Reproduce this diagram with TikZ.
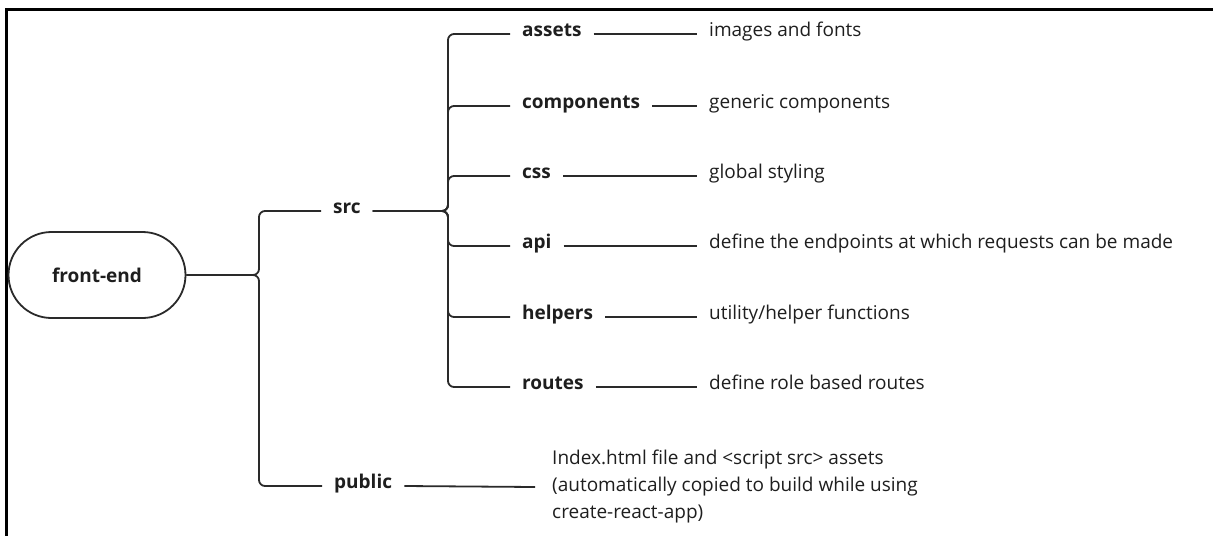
\documentclass[tikz,border=0pt]{standalone}
\usepackage{fontspec}
\setmainfont{Open Sans}
\definecolor{linec}{HTML}{2A2A2A}
\definecolor{textc}{HTML}{1E1E1E}
\begin{document}
\begin{tikzpicture}[x=1pt,y=-1pt,
  wire/.style={draw=linec, line width=1.8pt, rounded corners=6pt},
  frameline/.style={draw=black, line width=2.6pt},
  pill/.style={draw=linec, line width=1.8pt, rounded corners=43pt,
    minimum width=177pt, minimum height=86pt, inner sep=0pt,
    font=\fontsize{19}{22}\selectfont\bfseries, text=textc},
  dirlabel/.style={anchor=west, inner xsep=12pt, inner ysep=0pt,
    text height=0.72em, text depth=0.22em,
    font=\fontsize{19}{22}\selectfont\bfseries, text=textc},
  desc/.style={anchor=west, inner xsep=12pt, inner ysep=0pt,
    text height=0.72em, text depth=0.22em,
    font=\fontsize{19}{22}\selectfont, text=textc},
  descblock/.style={anchor=west, inner xsep=17pt, inner ysep=0pt,
    align=left, font=\fontsize{19}{27}\selectfont, text=textc}
]
\useasboundingbox (0,0) rectangle (1213,536);

% page frame (top and left edges)
\draw[frameline] (5,9.5) -- (1213,9.5);
\draw[frameline] (6.5,8.2) -- (6.5,536);

% root
\node[pill] (fe) at (97,275) {front-end};

% first level
\node[dirlabel] (src) at (321,211) {src};
\node[dirlabel] (public) at (322,486) {public};

% second level under src
\node[dirlabel] (assets)     at (510,34)  {assets};
\node[dirlabel] (components) at (510,106) {components};
\node[dirlabel] (css)        at (510,176) {css};
\node[dirlabel] (api)        at (510,246) {api};
\node[dirlabel] (helpers)    at (510,317) {helpers};
\node[dirlabel] (routes)     at (510,387) {routes};

% descriptions
\node[desc] (dassets)     at (697,34)  {images and fonts};
\node[desc] (dcomponents) at (697,106) {generic components};
\node[desc] (dcss)        at (697,176) {global styling};
\node[desc] (dapi)        at (697,246) {define the endpoints at which requests can be made};
\node[desc] (dhelpers)    at (697,317) {utility/helper functions};
\node[desc] (droutes)     at (697,387) {define role based routes};
\node[descblock] (dpublic) at (535,487) {Index.html file and <script src> assets\\(automatically copied to build while using\\create-react-app)};

% bracket from root
\draw[wire] (fe.east) -- (259,275) |- (src.west);
\draw[wire] (fe.east) -- (259,275) |- (public.west);

% bracket from src
\foreach \n in {assets,components,css,api,helpers,routes}
  \draw[wire] (src.east) -- (448,211) |- (\n.west);

% links to descriptions
\foreach \n in {assets,components,css,api,helpers,routes}
  \draw[wire] (\n.east) -- (d\n.west);
\draw[wire] (public.east) -- (dpublic.west);
\end{tikzpicture}
\end{document}
